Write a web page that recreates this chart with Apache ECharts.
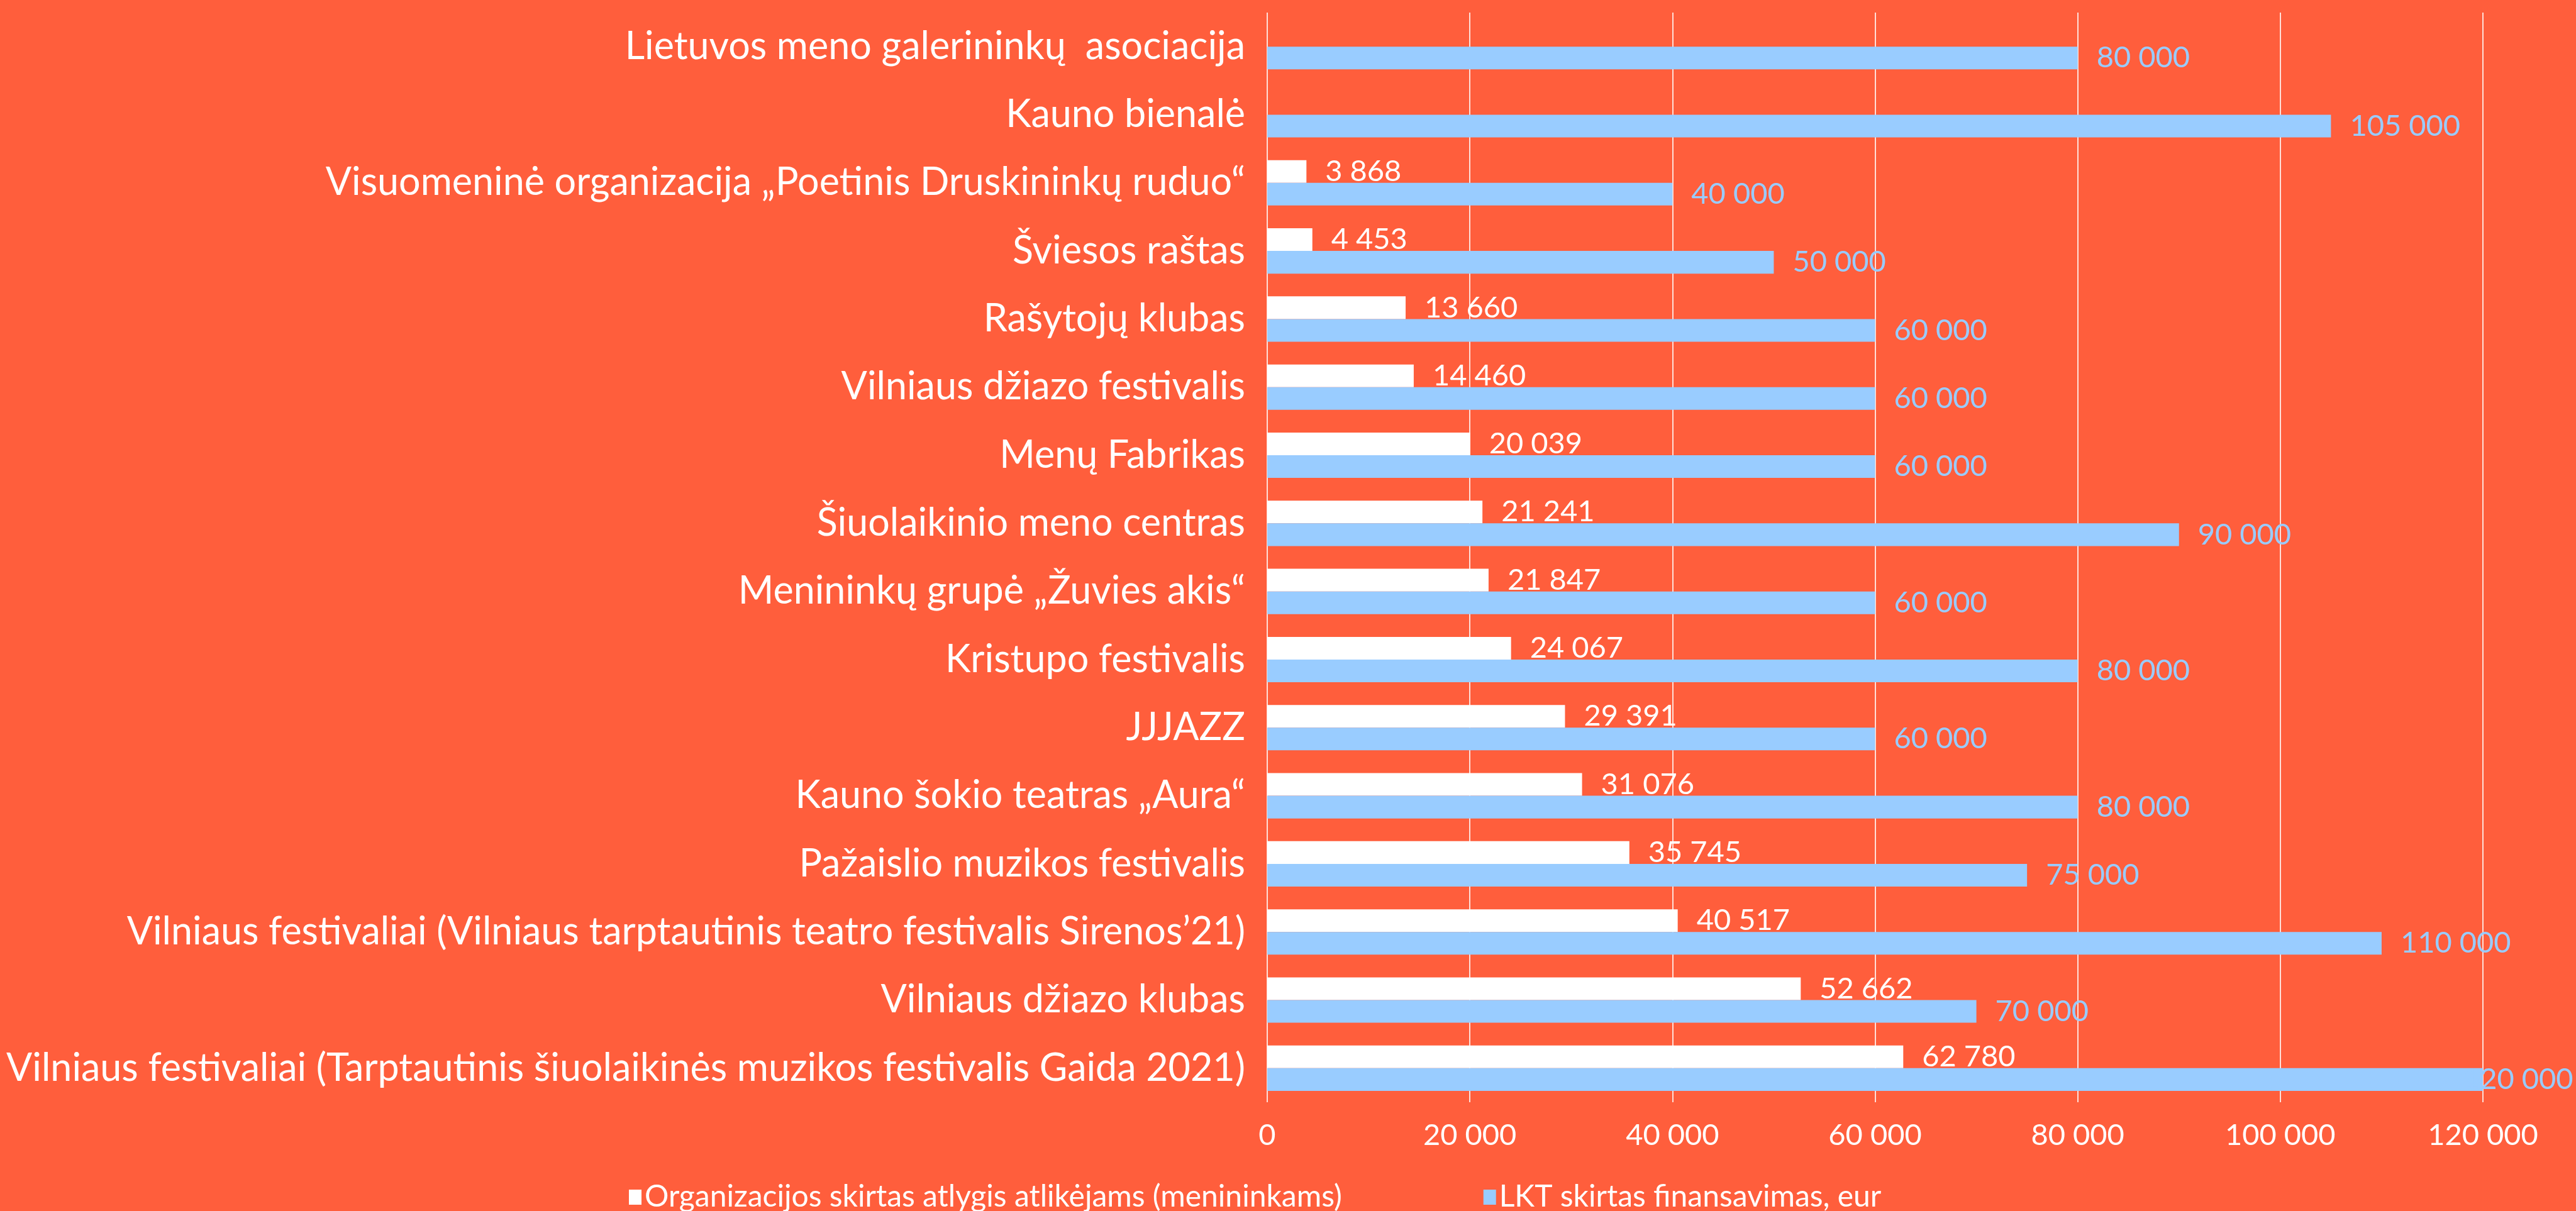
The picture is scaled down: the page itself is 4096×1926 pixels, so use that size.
<!DOCTYPE html>
<html>
<head>
<meta charset="utf-8">
<script src="https://cdn.jsdelivr.net/npm/echarts@6/dist/echarts.min.js"></script>
<style>
  html, body { margin: 0; padding: 0; background: #FF5E3C; }
</style>
</head>
<body>

<div id="main" style="width: 4096px;height:1926px;"></div>
<script type="text/javascript">
    // duomenys (iš viršaus į apačią)
    var categories = [
        'Lietuvos meno galerininkų  asociacija',
        'Kauno bienalė',
        'Visuomeninė organizacija „Poetinis Druskininkų ruduo“',
        'Šviesos raštas',
        'Rašytojų klubas',
        'Vilniaus džiazo festivalis',
        'Menų Fabrikas',
        'Šiuolaikinio meno centras',
        'Menininkų grupė „Žuvies akis“',
        'Kristupo festivalis',
        'JJJAZZ',
        'Kauno šokio teatras „Aura“',
        'Pažaislio muzikos festivalis',
        'Vilniaus festivaliai (Vilniaus tarptautinis teatro festivalis Sirenos’21)',
        'Vilniaus džiazo klubas',
        'Vilniaus festivaliai (Tarptautinis šiuolaikinės muzikos festivalis Gaida 2021)'
    ];
    var atlygis = [null, null, 3868, 4453, 13660, 14460, 20039, 21241, 21847, 24067, 29391, 31076, 35745, 40517, 52662, 62780];
    var finansavimas = [80000, 105000, 40000, 50000, 60000, 60000, 60000, 90000, 60000, 80000, 60000, 80000, 75000, 110000, 70000, 120000];
    var seriesNames = ['Organizacijos skirtas atlygis atlikėjams (menininkams)', 'LKT skirtas finansavimas, eur'];
    var xMax = 120000;
    var xStep = 20000;

    var font = 'Lato';

    function fmt(v) {
        return String(v).replace(/\B(?=(\d{3})+(?!\d))/g, ' ');
    }

    var myChart = echarts.init(document.getElementById('main'));

    var option = {
        backgroundColor: '#FF5E3C',
        textStyle: { fontFamily: font },
        grid: {
            left: 2015,
            right: 148,
            top: 20,
            bottom: 173
        },
        legend: {
            data: seriesNames,
            left: 995,
            top: 1875,
            itemWidth: 20,
            itemHeight: 24,
            itemGap: 225,
            icon: 'rect',
            textStyle: { color: '#fff', fontSize: 48, fontFamily: font }
        },
        xAxis: {
            type: 'value',
            min: 0,
            max: xMax,
            interval: xStep,
            axisLine: { show: false },
            axisTick: { show: false },
            splitLine: { lineStyle: { color: 'rgba(255,255,255,0.8)', width: 2 } },
            axisLabel: {
                color: '#fff',
                fontSize: 47,
                margin: 29,
                formatter: function (v) { return fmt(v); }
            }
        },
        yAxis: {
            type: 'category',
            inverse: true,
            data: categories,
            axisLine: { show: false },
            axisTick: { show: false },
            axisLabel: {
                color: '#fff',
                fontSize: 61,
                margin: 35
            }
        },
        series: [
            {
                name: seriesNames[0],
                type: 'bar',
                data: atlygis,
                barGap: '0%',
                barCategoryGap: '33.4%',
                itemStyle: { color: '#FFFFFF' },
                label: {
                    show: true,
                    position: 'right',
                    distance: 30,
                    color: '#fff',
                    fontSize: 47,
                    formatter: function (p) { return fmt(p.value); }
                }
            },
            {
                name: seriesNames[1],
                type: 'bar',
                data: finansavimas.map(function (v) {
                    return v >= xMax ? { value: v, label: { offset: [-62, 0] } } : v;
                }),
                barGap: '0%',
                barCategoryGap: '33.4%',
                itemStyle: { color: '#99CCFF' },
                label: {
                    show: true,
                    position: 'right',
                    distance: 30,
                    color: '#99CCFF',
                    fontSize: 47,
                    formatter: function (p) { return fmt(p.value); }
                }
            }
        ]
    };

    myChart.setOption(option);
</script>
</body>
</html>
